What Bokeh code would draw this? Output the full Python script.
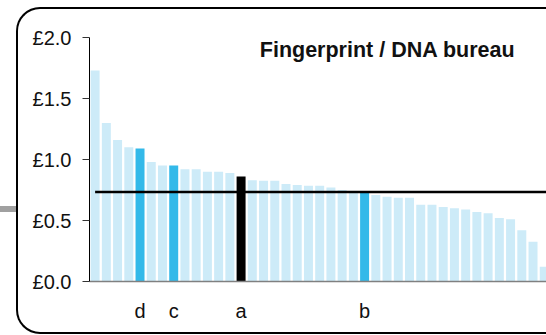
from bokeh.plotting import figure
from bokeh.models import (Range1d, FixedTicker, PrintfTickFormatter, LinearAxis,
                          Label, ColumnDataSource, InlineStyleSheet)
from bokeh.embed import file_html
from bokeh.resources import INLINE

# ---- data ----
values = [1.73, 1.30, 1.16, 1.10, 1.09, 0.98, 0.95, 0.95, 0.92, 0.92,
          0.90, 0.90, 0.89, 0.86, 0.83, 0.825, 0.825, 0.80, 0.79, 0.785,
          0.785, 0.77, 0.75, 0.74, 0.735, 0.71, 0.695, 0.686, 0.686, 0.63,
          0.63, 0.61, 0.60, 0.59, 0.57, 0.56, 0.52, 0.51, 0.42, 0.325, 0.12]
bar_labels = {13: "a", 24: "b", 7: "c", 4: "d"}
focus_idx = [13]
peer_idx = [4, 7, 24]
benchmark = 0.734
y_ticks = [0.0, 0.5, 1.0, 1.5, 2.0]
title_text = "Fingerprint / DNA bureau"

# ---- colours ----
C_OTHER = "#cdebf8"
C_PEER = "#33b9e9"
C_FOCUS = "#000000"

n = len(values)
xs = list(range(n))
colors = []
for i in xs:
    if i in focus_idx:
        colors.append(C_FOCUS)
    elif i in peer_idx:
        colors.append(C_PEER)
    else:
        colors.append(C_OTHER)

src = ColumnDataSource(dict(x=xs, top=values, color=colors))

# rounded frame around the chart and the grey connector stub on the left
frame_css = InlineStyleSheet(css="""
:host { position: relative; }
:host::after {
  content: ""; position: absolute; z-index: 10; pointer-events: none;
  box-sizing: border-box; left: 16px; right: 0px; top: 7px; bottom: 1px;
  border: 2.5px solid #000; border-right: none;
  border-radius: 24px 0 0 24px;
}
:host::before {
  content: ""; position: absolute; z-index: 10; pointer-events: none;
  left: 0px; top: 206px; width: 17px; height: 6px; background: #a0a0a0;
}
""")

W, H = 546, 335
p = figure(width=W, height=H, output_backend="svg", toolbar_location=None,
           x_range=Range1d(-0.5, 40.2), y_range=Range1d(0, 2.0),
           x_axis_location=None, y_axis_location=None,
           min_border_left=89, min_border_right=0, min_border_top=37,
           min_border_bottom=54, stylesheets=[frame_css])
p.outline_line_color = None
p.grid.visible = False
p.background_fill_color = "white"
p.border_fill_color = "white"

p.vbar(x="x", top="top", width=0.8, color="color", source=src, line_color=None)
p.segment(x0=[0], x1=[n + 5], y0=[benchmark], y1=[benchmark],
          line_color="black", line_width=2.5)

FONT = "Liberation Sans"

yaxis = LinearAxis(ticker=FixedTicker(ticks=y_ticks),
                   formatter=PrintfTickFormatter(format="£%.1f"))
yaxis.axis_line_color = "black"
yaxis.axis_line_width = 1
yaxis.major_tick_line_color = "#333333"
yaxis.major_tick_out = 7
yaxis.major_tick_in = 0
yaxis.minor_tick_line_color = None
yaxis.major_label_standoff = 11
yaxis.major_label_text_font = FONT
yaxis.major_label_text_font_size = "20px"
yaxis.major_label_text_color = "#111111"
p.add_layout(yaxis, "left")

xaxis = LinearAxis(ticker=FixedTicker(ticks=sorted(bar_labels.keys())),
                   major_label_overrides=bar_labels)
xaxis.axis_line_color = "#808080"
xaxis.axis_line_width = 1.5
xaxis.major_tick_line_color = None
xaxis.minor_tick_line_color = None
xaxis.major_tick_out = 0
xaxis.major_tick_in = 0
xaxis.major_label_standoff = 18
xaxis.major_label_text_font = FONT
xaxis.major_label_text_font_size = "20px"
xaxis.major_label_text_color = "#111111"
p.add_layout(xaxis, "below")

p.add_layout(Label(x=37.43, y=1.90, text=title_text, text_align="right",
                   text_baseline="alphabetic", text_font=FONT,
                   text_font_size="21.5px", text_font_style="bold",
                   text_color="#111111"))

open("out.html", "w").write(file_html(p, INLINE))
